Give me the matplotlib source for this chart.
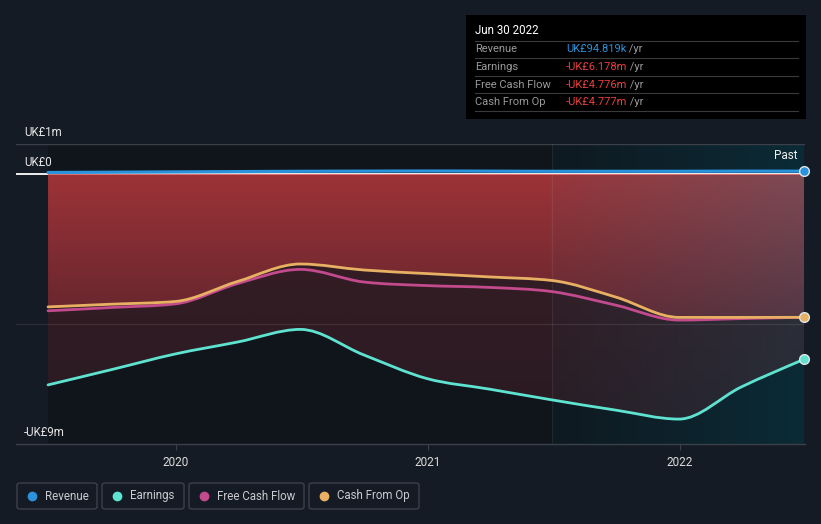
import numpy as np
import pandas as pd
import matplotlib
matplotlib.use("Agg")
import matplotlib.pyplot as plt
from matplotlib.path import Path
from matplotlib.patches import PathPatch, Rectangle, FancyBboxPatch
from matplotlib.lines import Line2D

# ---------------- data (UK£ millions) ----------------
dates = ['2019-06-30', '2019-09-30', '2019-12-31', '2020-03-31', '2020-06-30',
         '2020-09-30', '2020-12-31', '2021-03-31', '2021-06-30', '2021-09-30',
         '2021-12-31', '2022-03-31', '2022-06-30']
revenue = [0.05, 0.06, 0.07, 0.08, 0.09, 0.095, 0.1, 0.095, 0.09, 0.09, 0.09, 0.095, 0.0948]
earnings = [-7.03, -6.52, -6.0, -5.6, -5.18, -6.03, -6.82, -7.17, -7.53, -7.87, -8.17, -7.1, -6.178]
fcf = [-4.56, -4.45, -4.33, -3.65, -3.18, -3.6, -3.72, -3.78, -3.92, -4.37, -4.87, -4.82, -4.776]
cfo = [-4.43, -4.34, -4.25, -3.58, -3.0, -3.2, -3.32, -3.43, -3.55, -4.1, -4.78, -4.78, -4.777]
past_start = '2021-06-30'
year_ticks = [2020, 2021, 2022]
ytick_vals = [1, 0, -9]
ytick_labels = ['UK£1m', 'UK£0', '-UK£9m']
series_names = ['Revenue', 'Earnings', 'Free Cash Flow', 'Cash From Op']
tooltip_date = 'Jun 30 2022'
tooltip_values = ['UK£94.819k', '-UK£6.178m', '-UK£4.776m', '-UK£4.777m']

C_REV = '#2a93dc'
C_EARN = '#5fe3d1'
C_FCF = '#c24a8d'
C_CFO = '#e8b062'
BG = '#151b24'

plt.rcParams['font.family'] = ['Roboto', 'DejaVu Sans']

W, H = 821, 524
fig = plt.figure(figsize=(W / 100, H / 100), dpi=100)
fig.patch.set_facecolor(BG)


def fx(px):
    return px / W


def fy(py):
    return 1 - py / H


def dec_year(s):
    d = pd.Timestamp(s)
    days = 366 if d.is_leap_year else 365
    return d.year + (d.dayofyear - 1) / days


t = np.array([dec_year(d) for d in dates])
t_past = dec_year(past_start)
x0, xn = t[0], t[-1]

ax = fig.add_axes([fx(16), fy(444), fx(805) - fx(16), fy(144) - fy(444)])
ax.set_facecolor(BG)
XL = (2019.366, 2022.497)
YL = (-9, 1)


# ---------- monotone cubic bezier path (d3 curveMonotoneX style) ----------
def tangents(x, y):
    x = np.asarray(x, float)
    y = np.asarray(y, float)
    n = len(x)
    h = np.diff(x)
    s = np.diff(y) / h
    m = np.zeros(n)
    for i in range(1, n - 1):
        p = (s[i - 1] * h[i] + s[i] * h[i - 1]) / (h[i - 1] + h[i])
        m[i] = (np.sign(s[i - 1]) + np.sign(s[i])) * min(abs(s[i - 1]), abs(s[i]), 0.5 * abs(p))
    m[0] = (3 * s[0] - m[1]) / 2
    m[-1] = (3 * s[-1] - m[-2]) / 2
    return m


def segments(x, y):
    m = tangents(x, y)
    segs = []
    for i in range(len(x) - 1):
        h = x[i + 1] - x[i]
        c1 = (x[i] + h / 3, y[i] + m[i] * h / 3)
        c2 = (x[i + 1] - h / 3, y[i + 1] - m[i + 1] * h / 3)
        segs.append(((x[i], y[i]), c1, c2, (x[i + 1], y[i + 1])))
    return segs


def line_path(x, y):
    segs = segments(x, y)
    verts = [segs[0][0]]
    codes = [Path.MOVETO]
    for p0, c1, c2, p1 in segs:
        verts += [c1, c2, p1]
        codes += [Path.CURVE4] * 3
    return Path(verts, codes)


def fill_path(x, y):
    segs = segments(x, y)
    verts = [(x[0], 0), (x[-1], 0), (x[-1], y[-1])]
    codes = [Path.MOVETO, Path.LINETO, Path.LINETO]
    for p0, c1, c2, p1 in reversed(segs):
        verts += [c2, c1, p0]
        codes += [Path.CURVE4] * 3
    verts.append((x[0], 0))
    codes.append(Path.CLOSEPOLY)
    return Path(verts, codes)


# ---------- base dark data region ----------
ax.add_patch(Rectangle((x0, -9), xn - x0, 10, facecolor='#10151c', edgecolor='none', zorder=0.5))

# ---------- "Past" teal overlay ----------
nx = 300
xs = np.linspace(t_past, xn, nx)
xf = (xs - t_past) / (xn - t_past)
ov = np.zeros((2, nx, 4))
ov[..., 0] = 8 / 255
ov[..., 1] = 55 / 255
ov[..., 2] = 68 / 255
ov[..., 3] = 0.12 + 0.53 * xf
ax.imshow(ov, extent=[t_past, xn, -9, 1], origin='lower', aspect='auto',
          interpolation='bilinear', zorder=0.8)

# ---------- earnings fill (translucent red) ----------
ep = PathPatch(fill_path(t, np.array(earnings)), facecolor='none', edgecolor='none',
               transform=ax.transData)
ax.add_patch(ep)
ny = 200
ys = np.linspace(-9, 0, ny)
yf = np.clip(-ys / 8.5, 0, 1)[:, None]
eimg = np.zeros((ny, 2, 4))
eimg[..., 0] = 200 / 255
eimg[..., 1] = 60 / 255
eimg[..., 2] = 72 / 255
eimg[..., 3] = (0.23 - 0.09 * yf) * np.ones((1, 2))
im = ax.imshow(eimg, extent=[x0, xn, -9, 0], origin='lower', aspect='auto',
               interpolation='bilinear', zorder=1)
im.set_clip_path(ep)

# ---------- cash-from-op fill (red gradient) ----------
cp = PathPatch(fill_path(t, np.array(cfo)), facecolor='none', edgecolor='none',
               transform=ax.transData)
ax.add_patch(cp)
ny2, nx2 = 200, 400
ys2 = np.linspace(-5.5, 0, ny2)
xs2 = np.linspace(x0, xn, nx2)
yfr = np.clip(-ys2 / 4.7, 0, 1)[:, None, None]
wx = np.where(xs2 < t_past, 0.0, 0.15 + 0.85 * (xs2 - t_past) / (xn - t_past))[None, :, None]
lt = np.array([157, 51, 56]) / 255
lb = np.array([103, 38, 46]) / 255
rt = np.array([126, 74, 84]) / 255
rb = np.array([84, 56, 70]) / 255
left = lt + (lb - lt) * yfr
right = rt + (rb - rt) * yfr
rimg = left + (right - left) * wx
im2 = ax.imshow(rimg, extent=[x0, xn, -5.5, 0], origin='lower', aspect='auto',
                interpolation='bilinear', zorder=1.2)
im2.set_clip_path(cp)

# ---------- grid & reference lines ----------
ax.axhline(1, color='#3b4049', lw=1.0, zorder=1.5)
ax.axhline(-5, color='white', alpha=0.09, lw=0.9, zorder=1.5)
ax.axhline(0, color='white', lw=1.3, zorder=0.9)
ax.plot([x0, xn], [0, 0], color='#e07575', lw=0.7, zorder=1.6)
ax.axvline(t_past, color='white', alpha=0.07, lw=0.9, zorder=1.5)

# ---------- lines ----------
for vals, col, lw, z in [(fcf, C_FCF, 2.0, 3), (cfo, C_CFO, 2.0, 3.1),
                         (earnings, C_EARN, 2.0, 3.2), (revenue, C_REV, 2.3, 3.3)]:
    ax.add_patch(PathPatch(line_path(t, np.array(vals)), facecolor='none', edgecolor=col,
                           lw=lw, capstyle='round', joinstyle='round', zorder=z))

for vals, col in [(revenue, C_REV), (cfo, C_CFO), (earnings, C_EARN)]:
    ax.plot([t[-1]], [vals[-1]], 'o', ms=7, mfc=col, mec='#dfe6ea', mew=1.0, zorder=4,
            clip_on=False)

ax.set_xlim(*XL)
ax.set_ylim(*YL)
ax.set_xticks(year_ticks)
ax.set_xticklabels([str(y) for y in year_ticks])
ax.set_yticks([])
for sp in ['top', 'left', 'right']:
    ax.spines[sp].set_visible(False)
ax.spines['bottom'].set_color('#3b4049')
ax.spines['bottom'].set_linewidth(1.0)
ax.tick_params(axis='x', length=4, width=0.8, color='#3b4049', labelcolor='#dcdcdc',
               labelsize=8.5, pad=5)

# ---------- y labels ----------
for v, lab in zip(ytick_vals, ytick_labels):
    py = 144 + (1 - v) * 30 - 12
    fig.text(fx(24), fy(py), lab, color='#e6e6e6', fontsize=8.3, ha='left', va='center')

fig.text(fx(797), fy(156), 'Past', color='#f0f0f0', fontsize=8.5, ha='right', va='center')

# ---------- tooltip ----------
fig.add_artist(Rectangle((fx(466), fy(119)), fx(806) - fx(466), fy(15) - fy(119),
                         transform=fig.transFigure, facecolor='#000000', edgecolor='none'))
fig.text(fx(475), fy(31), tooltip_date, color='#ffffff', fontsize=8.3, ha='left', va='center')
for yy in [41, 58, 76, 93, 111]:
    fig.add_artist(Line2D([fx(475), fx(798)], [fy(yy), fy(yy)], transform=fig.transFigure,
                          color='#3a3a3a', lw=0.8))
for i, (name, val) in enumerate(zip(series_names, tooltip_values)):
    yy = 49.5 + i * 17.5
    fig.text(fx(475), fy(yy), name, color='#9a9a9a', fontsize=8.0, ha='left', va='center')
    vc = C_REV if i == 0 else '#e8403d'
    tv = fig.text(fx(566), fy(yy), val, color=vc, fontsize=8.0, ha='left', va='center')
    fig.add_artist(plt.Annotation(' /yr', xy=(1, 0.5), xycoords=tv, xytext=(0, 0),
                                  textcoords='offset points', color='#9a9a9a', fontsize=8.0,
                                  ha='left', va='center'))

# ---------- legend ----------
boxes = [(17, 97), (102, 184), (189, 304), (309, 419)]
cols = [C_REV, C_EARN, C_FCF, C_CFO]
for (a, b), name, c in zip(boxes, series_names, cols):
    fig.add_artist(FancyBboxPatch((fx(a), fy(509)), fx(b) - fx(a), fy(483) - fy(509),
                                  boxstyle='round,pad=0,rounding_size=0.004',
                                  transform=fig.transFigure, facecolor='none',
                                  edgecolor='#3b4049', lw=1.0))
    fig.add_artist(Line2D([fx(a + 15)], [fy(496)], marker='o', ms=6, mfc=c, mec=c,
                          transform=fig.transFigure))
    fig.text(fx(a + 27.5), fy(496), name, color='#c8cbd0', fontsize=8.3, ha='left', va='center')

fig.savefig('out.png', dpi=100, facecolor=BG)
